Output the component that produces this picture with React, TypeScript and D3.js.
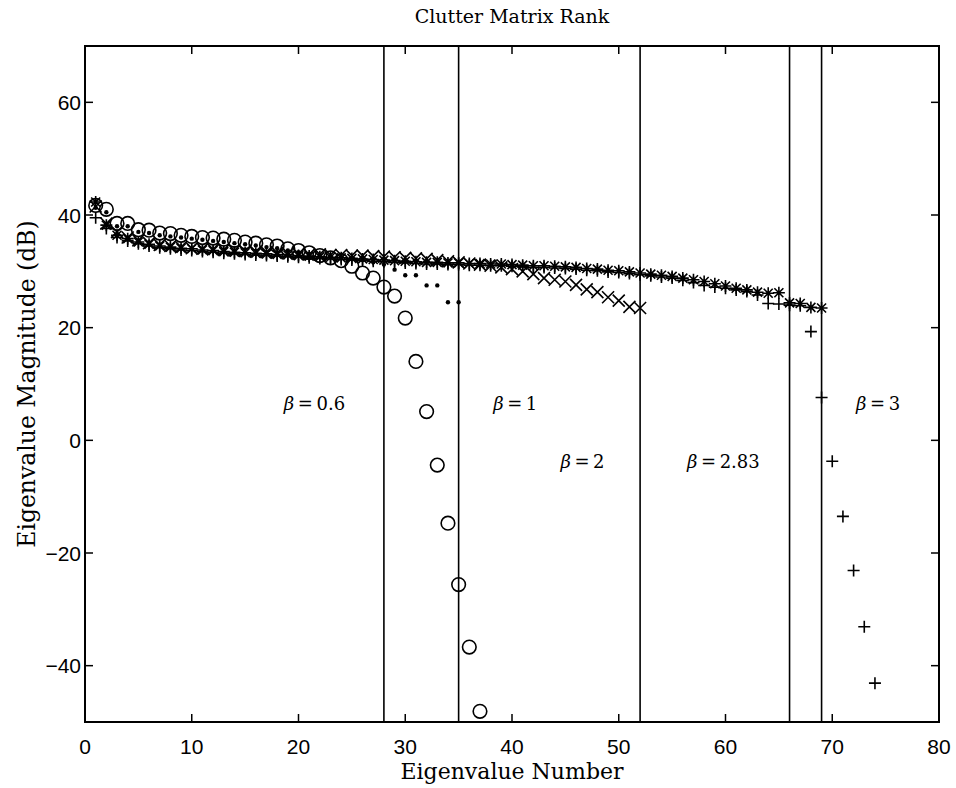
import React from "react";
import * as d3 from "d3";

// eigenvalue magnitudes (dB) per clutter matrix
const circleVals = [41.7, 41.0, 38.5, 38.5, 37.4, 37.3, 36.8, 36.7, 36.4, 36.2, 36.0, 35.9, 35.7, 35.5, 35.2, 35.0, 34.7, 34.5, 34.0, 33.7, 33.3, 32.8, 32.4, 31.9, 30.9, 29.7, 28.8, 27.2, 25.6, 21.7, 14.0, 5.1, -4.4, -14.7, -25.6, -36.7, -48.1];
const dotVals = [41.3, 40.5, 38.0, 38.0, 37.0, 36.8, 36.4, 36.2, 36.0, 35.8, 35.6, 35.4, 35.2, 35.0, 34.8, 34.6, 34.3, 34.1, 33.7, 33.4, 33.1, 32.8, 32.6, 32.4, 32.2, 32.0, 31.6, 31.2, 30.3, 29.3, 29.3, 27.5, 27.5, 24.5, 24.5];
const crossVals = [41.5, 38.5, 37.0, 36.0, 35.5, 35.0, 34.7, 34.5, 34.3, 34.1, 34.0, 33.9, 33.8, 33.7, 33.6, 33.5, 33.4, 33.3, 33.2, 33.1, 33.0, 33.0, 32.9, 32.9, 32.8, 32.8, 32.7, 32.6, 32.5, 32.4, 32.3, 32.2, 32.0, 31.8, 31.6, 31.4, 31.2, 31.0, 30.7, 30.4, 30.0, 29.5, 28.8, 28.5, 28.2, 27.6, 26.8, 26.3, 25.4, 24.8, 23.7, 23.5];
const starVals = [42.3, 38.2, 36.4, 35.8, 35.2, 34.8, 34.5, 34.3, 34.1, 34.0, 33.8, 33.7, 33.5, 33.4, 33.3, 33.2, 33.1, 33.0, 32.9, 32.8, 32.7, 32.6, 32.5, 32.4, 32.3, 32.2, 32.1, 32.0, 31.9, 31.8, 31.7, 31.6, 31.6, 31.5, 31.5, 31.4, 31.4, 31.3, 31.3, 31.2, 31.1, 31.0, 31.0, 30.9, 30.8, 30.7, 30.5, 30.4, 30.2, 30.1, 29.9, 29.7, 29.5, 29.3, 29.1, 28.8, 28.5, 28.2, 27.8, 27.4, 27.0, 26.7, 26.3, 26.1, 26.2, 24.4, 24.3, 23.6, 23.5];
const plusVals = [39.5, 37.6, 36.0, 35.4, 34.9, 34.5, 34.2, 34.0, 33.8, 33.7, 33.5, 33.4, 33.2, 33.1, 33.0, 32.9, 32.8, 32.7, 32.6, 32.5, 32.4, 32.3, 32.2, 32.1, 32.0, 31.9, 31.8, 31.7, 31.6, 31.5, 31.4, 31.3, 31.3, 31.2, 31.2, 31.1, 31.1, 31.0, 31.0, 30.9, 30.8, 30.7, 30.7, 30.6, 30.5, 30.4, 30.2, 30.1, 29.9, 29.8, 29.6, 29.4, 29.2, 29.0, 28.8, 28.4, 28.0, 27.5, 27.2, 27.0, 26.7, 26.4, 25.8, 24.3, 24.2, 24.0, 23.9, 19.3, 7.6, -3.7, -13.5, -23.1, -33.1, -43.1];

const rankLines = [28, 35, 52, 66, 69];
const betaLabels = [
  { x: 21.5, y: 5.3, text: "0.6" },
  { x: 40.3, y: 5.3, text: "1" },
  { x: 46.6, y: -4.9, text: "2" },
  { x: 59.8, y: -4.9, text: "2.83" },
  { x: 74.3, y: 5.3, text: "3" },
];
const xTicks = [0, 10, 20, 30, 40, 50, 60, 70, 80];
const yTicks = [-40, -20, 0, 20, 40, 60];

const W = 956;
const H = 788;
const L = 85, R = 939, T = 46, B = 722;

export default function App() {
  const x = d3.scaleLinear().domain([0, 80]).range([L, R]);
  const y = d3.scaleLinear().domain([-50, 70]).range([B, T]);
  const serif = "'DejaVu Serif', 'Liberation Serif', serif";
  const sans = "'Liberation Sans', Arial, sans-serif";
  const sw = 1.6;
  const s = 6;

  return (
    <svg width={W} height={H} style={{ position: "absolute", left: 0, top: 0, background: "#fff" }}>
      <rect x={0} y={0} width={W} height={H} fill="#fff" />
      <text x={(L + R) / 2} y={23} textAnchor="middle" fontFamily={serif} fontSize={19}>Clutter Matrix Rank</text>

      {/* frame */}
      <rect x={L} y={T} width={R - L} height={B - T} fill="none" stroke="#000" strokeWidth={2} />
      {xTicks.map(t => (
        <g key={"xt" + t}>
          <line x1={x(t)} x2={x(t)} y1={B} y2={B - 8} stroke="#000" strokeWidth={1.5} />
          <line x1={x(t)} x2={x(t)} y1={T} y2={T + 8} stroke="#000" strokeWidth={1.5} />
          <text x={x(t)} y={B + 32} textAnchor="middle" fontFamily={sans} fontSize={21}>{t}</text>
        </g>
      ))}
      {yTicks.map(t => (
        <g key={"yt" + t}>
          <line x1={L} x2={L + 8} y1={y(t)} y2={y(t)} stroke="#000" strokeWidth={1.5} />
          <line x1={R} x2={R - 8} y1={y(t)} y2={y(t)} stroke="#000" strokeWidth={1.5} />
          <text x={L - 4} y={y(t) + 7.5} textAnchor="end" fontFamily={sans} fontSize={21}>{t < 0 ? "\u2212" + Math.abs(t) : t}</text>
        </g>
      ))}
      <text x={(L + R) / 2} y={779} textAnchor="middle" fontFamily={serif} fontSize={22}>Eigenvalue Number</text>
      <text transform={`translate(35,${(T + B) / 2}) rotate(-90)`} textAnchor="middle" fontFamily={serif} fontSize={23.5}>Eigenvalue Magnitude (dB)</text>

      {rankLines.map(r => (
        <line key={"r" + r} x1={x(r)} x2={x(r)} y1={T} y2={B} stroke="#000" strokeWidth={1.6} />
      ))}

      {betaLabels.map(b => (
        <text key={"b" + b.text} x={x(b.x)} y={y(b.y)} textAnchor="middle" fontFamily={serif} fontSize={18}>
          <tspan fontStyle="italic">β</tspan>{"\u2009=\u2009"}{b.text}
        </text>
      ))}

      {/* markers */}
      <g stroke="#000" strokeWidth={sw} fill="none">
        {circleVals.map((v, i) => (
          <circle key={"c" + i} cx={x(i + 1)} cy={y(v)} r={6.8} />
        ))}
        {crossVals.map((v, i) => (
          <path key={"x" + i} d={`M${x(i + 1) - s},${y(v) - s}L${x(i + 1) + s},${y(v) + s}M${x(i + 1) - s},${y(v) + s}L${x(i + 1) + s},${y(v) - s}`} />
        ))}
        {starVals.map((v, i) => {
          const cx = x(i + 1), cy = y(v), k = s * 0.75;
          return (
            <path key={"s" + i} d={`M${cx - s},${cy}L${cx + s},${cy}M${cx},${cy - s}L${cx},${cy + s}M${cx - k},${cy - k}L${cx + k},${cy + k}M${cx - k},${cy + k}L${cx + k},${cy - k}`} />
          );
        })}
        {plusVals.map((v, i) => (
          <path key={"p" + i} d={`M${x(i + 1) - s},${y(v)}L${x(i + 1) + s},${y(v)}M${x(i + 1)},${y(v) - s}L${x(i + 1)},${y(v) + s}`} />
        ))}
      </g>
      <g fill="#000">
        {dotVals.map((v, i) => (
          <circle key={"d" + i} cx={x(i + 1)} cy={y(v)} r={2.2} />
        ))}
      </g>
    </svg>
  );
}
